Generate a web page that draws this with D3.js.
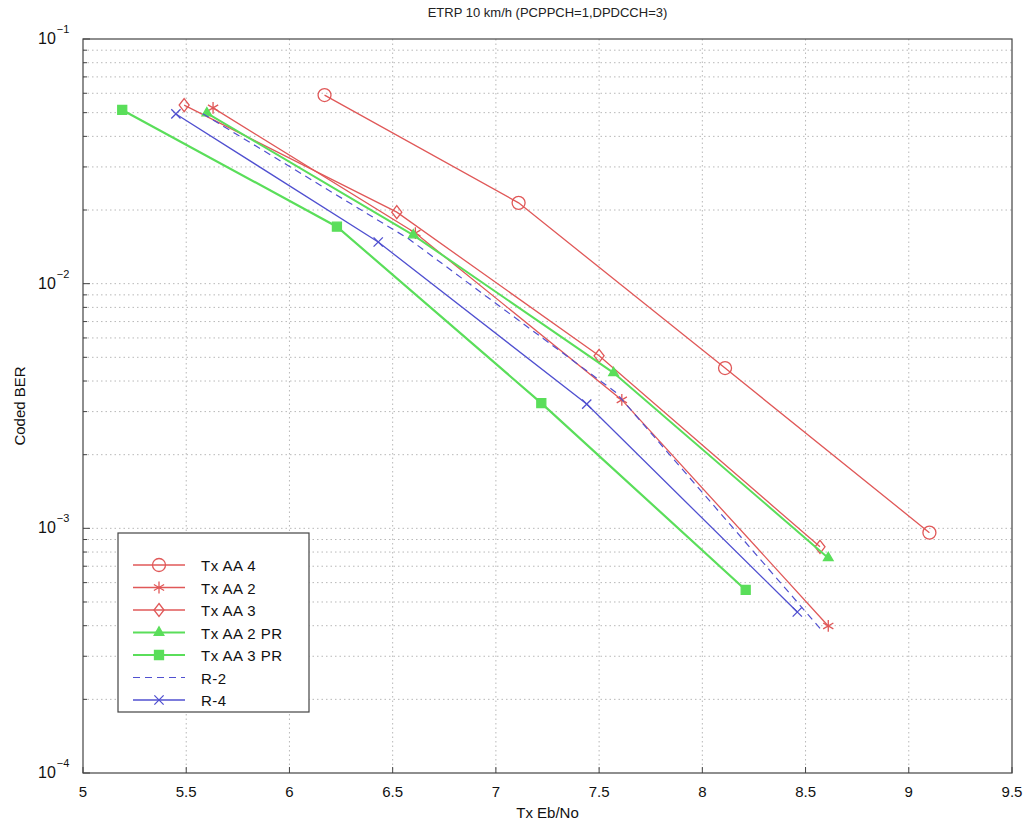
<!DOCTYPE html>
<html>
<head>
<meta charset="utf-8">
<script src="https://cdn.jsdelivr.net/npm/d3@7"></script>
<style>
  body { margin: 0; background: #fff; }
  svg { display: block; font-family: "Liberation Sans", Arial, sans-serif; }
</style>
</head>
<body>
<div class="chart"></div>
<script>
// series data (Tx Eb/No, coded BER)
const txAA4_x = [6.17, 7.11, 8.11, 9.10];
const txAA4_y = [0.059, 0.0214, 0.00452, 0.00096];
const txAA2_x = [5.63, 6.61, 7.61, 8.61];
const txAA2_y = [0.0523, 0.0161, 0.00335, 0.000399];
const txAA3_x = [5.49, 6.52, 7.50, 8.57];
const txAA3_y = [0.0537, 0.0196, 0.00507, 0.00084];
const txAA2PR_x = [5.60, 6.60, 7.57, 8.61];
const txAA2PR_y = [0.0498, 0.0158, 0.00432, 0.000757];
const txAA3PR_x = [5.19, 6.23, 7.22, 8.21];
const txAA3PR_y = [0.0513, 0.0171, 0.00325, 0.00056];
const r2_x = [5.58, 6.58, 7.58, 8.57];
const r2_y = [0.0495, 0.0152, 0.0036, 0.00039];
const r4_x = [5.45, 6.43, 7.44, 8.46];
const r4_y = [0.0494, 0.0148, 0.00322, 0.000455];

const xTicks = [5, 5.5, 6, 6.5, 7, 7.5, 8, 8.5, 9, 9.5];
const yDecades = [-4, -3, -2, -1];
const seriesNames = ['Tx AA 4', 'Tx AA 2', 'Tx AA 3', 'Tx AA 2 PR', 'Tx AA 3 PR', 'R-2', 'R-4'];

const titleText = 'ETRP 10 km/h (PCPPCH=1,DPDCCH=3)';
const xLabel = 'Tx Eb/No';
const yLabel = 'Coded BER';

const red = '#e05858', green = '#5ade5a', blue = '#5050d0';
const series = [
  {name: seriesNames[0], xs: txAA4_x, ys: txAA4_y, color: red, width: 1.3, marker: 'circle'},
  {name: seriesNames[1], xs: txAA2_x, ys: txAA2_y, color: red, width: 1.3, marker: 'star'},
  {name: seriesNames[2], xs: txAA3_x, ys: txAA3_y, color: red, width: 1.3, marker: 'diamond'},
  {name: seriesNames[3], xs: txAA2PR_x, ys: txAA2PR_y, color: green, width: 2, marker: 'triangle'},
  {name: seriesNames[4], xs: txAA3PR_x, ys: txAA3PR_y, color: green, width: 2.2, marker: 'square'},
  {name: seriesNames[5], xs: r2_x, ys: r2_y, color: blue, width: 1.2, marker: null, dash: '7,5'},
  {name: seriesNames[6], xs: r4_x, ys: r4_y, color: blue, width: 1.3, marker: 'x'}
];

const W = 1026, H = 824;
const margin = {top: 39, left: 83, right: 14, bottom: 51};
const width = W - margin.left - margin.right;
const height = H - margin.top - margin.bottom;

const svg = d3.select('.chart').append('svg').attr('width', W).attr('height', H);
const g = svg.append('g').attr('transform', 'translate(' + margin.left + ',' + margin.top + ')');

const x = d3.scaleLinear().domain([5, 9.5]).range([0, width]);
const y = d3.scaleLog().domain([1e-4, 1e-1]).range([height, 0]);

// grid
const minorY = [];
yDecades.slice(0, 3).forEach(function (e) {
  for (let k = 2; k <= 9; k++) minorY.push(k * Math.pow(10, e));
});
const grid = g.append('g').attr('class', 'grid')
  .style('stroke', '#b8b8b8').style('stroke-dasharray', '1.5,3').style('stroke-width', 1);
grid.selectAll('line.gx').data(xTicks.slice(1, -1)).enter().append('line')
  .attr('x1', d => x(d)).attr('x2', d => x(d)).attr('y1', 0).attr('y2', height);
grid.selectAll('line.gy').data(minorY.concat(yDecades.slice(1, 3).map(e => Math.pow(10, e)))).enter().append('line')
  .attr('x1', 0).attr('x2', width).attr('y1', d => y(d)).attr('y2', d => y(d));

// box
g.append('rect').attr('width', width).attr('height', height)
  .attr('fill', 'none').attr('stroke', '#444').attr('stroke-width', 1.2);

// x ticks
const xAxis = g.append('g').attr('transform', 'translate(0,' + height + ')');
xAxis.selectAll('line').data(xTicks).enter().append('line')
  .attr('x1', d => x(d)).attr('x2', d => x(d)).attr('y1', 0).attr('y2', -6).attr('stroke', '#444');
xAxis.selectAll('text').data(xTicks).enter().append('text')
  .attr('x', d => x(d)).attr('y', 24).attr('text-anchor', 'middle')
  .style('font-size', '15px').attr('fill', '#111').text(d => d);

// y ticks
const yAxis = g.append('g');
yAxis.selectAll('line.minor').data(minorY).enter().append('line')
  .attr('x1', 0).attr('x2', 4).attr('y1', d => y(d)).attr('y2', d => y(d)).attr('stroke', '#444');
yAxis.selectAll('line.major').data(yDecades).enter().append('line')
  .attr('x1', 0).attr('x2', 7).attr('y1', d => y(Math.pow(10, d))).attr('y2', d => y(Math.pow(10, d))).attr('stroke', '#444');
const yt = yAxis.selectAll('text').data(yDecades).enter().append('text')
  .attr('x', -45).attr('y', d => y(Math.pow(10, d)) + 5)
  .style('font-size', '16px').attr('fill', '#111');
yt.append('tspan').text('10');
yt.append('tspan').attr('dy', -11).attr('dx', 1).style('font-size', '11px').text(d => '\u2212' + (-d));

// lines
const line = d3.line().x(d => x(d[0])).y(d => y(d[1]));
function markerPath(type, s) {
  if (type === 'circle') return d3.symbol(d3.symbolCircle, s * s * Math.PI / 4)();
  if (type === 'square') return d3.symbol(d3.symbolSquare, s * s)();
  if (type === 'triangle') return d3.symbol(d3.symbolTriangle, s * s * 0.5)();
  if (type === 'diamond') return 'M0,' + (-s / 2) + 'L' + (s / 2.6) + ',0L0,' + (s / 2) + 'L' + (-s / 2.6) + ',0Z';
  if (type === 'star') return d3.symbol(d3.symbolAsterisk, s * s * 0.5)();
  if (type === 'x') return d3.symbol(d3.symbolX, s * s * 0.4)();
  return '';
}
function markerStyle(sel, sr) {
  const filled = sr.marker === 'square' || sr.marker === 'triangle';
  sel.attr('fill', filled ? sr.color : 'none').attr('stroke', sr.color).attr('stroke-width', 1.3);
}
const markerSize = {circle: 13, square: 9, triangle: 9, diamond: 13, star: 14, x: 12};

series.forEach(function (sr) {
  const pts = sr.xs.map((v, i) => [v, sr.ys[i]]);
  g.append('path').datum(pts).attr('d', line).attr('fill', 'none')
    .attr('stroke', sr.color).attr('stroke-width', sr.width)
    .attr('stroke-dasharray', sr.dash || null);
  if (sr.marker) {
    g.selectAll(null).data(pts).enter().append('path')
      .attr('transform', d => 'translate(' + x(d[0]) + ',' + y(d[1]) + ')')
      .attr('d', markerPath(sr.marker, markerSize[sr.marker]))
      .call(markerStyle, sr);
  }
});

// legend
const legend = svg.append('g').attr('transform', 'translate(118,533)');
legend.append('rect').attr('width', 191).attr('height', 179)
  .attr('fill', '#fff').attr('stroke', '#444').attr('stroke-width', 1.2);
const items = legend.selectAll('g').data(series).enter().append('g')
  .attr('transform', (d, i) => 'translate(0,' + (32 + i * 22.5) + ')');
items.append('line').attr('x1', 15).attr('x2', 67).attr('y1', 0).attr('y2', 0)
  .attr('stroke', d => d.color).attr('stroke-width', d => d.width)
  .attr('stroke-dasharray', d => d.dash || null);
items.filter(d => d.marker).append('path')
  .attr('transform', 'translate(41,0)')
  .attr('d', d => markerPath(d.marker, markerSize[d.marker]))
  .each(function (d) { d3.select(this).call(markerStyle, d); });
items.append('text').attr('x', 83).attr('y', 6)
  .style('font-size', '15px').style('letter-spacing', '0.5px').attr('fill', '#111').text(d => d.name);

// titles
svg.append('text').attr('x', margin.left + width / 2).attr('y', 17).attr('text-anchor', 'middle')
  .style('font-size', '13px').attr('fill', '#222').text(titleText);
svg.append('text').attr('x', margin.left + width / 2).attr('y', 818).attr('text-anchor', 'middle')
  .style('font-size', '15px').attr('fill', '#111').text(xLabel);
svg.append('text').attr('transform', 'translate(25,' + (margin.top + height / 2) + ') rotate(-90)')
  .attr('text-anchor', 'middle').style('font-size', '15px').attr('fill', '#111').text(yLabel);
</script>
</body>
</html>
